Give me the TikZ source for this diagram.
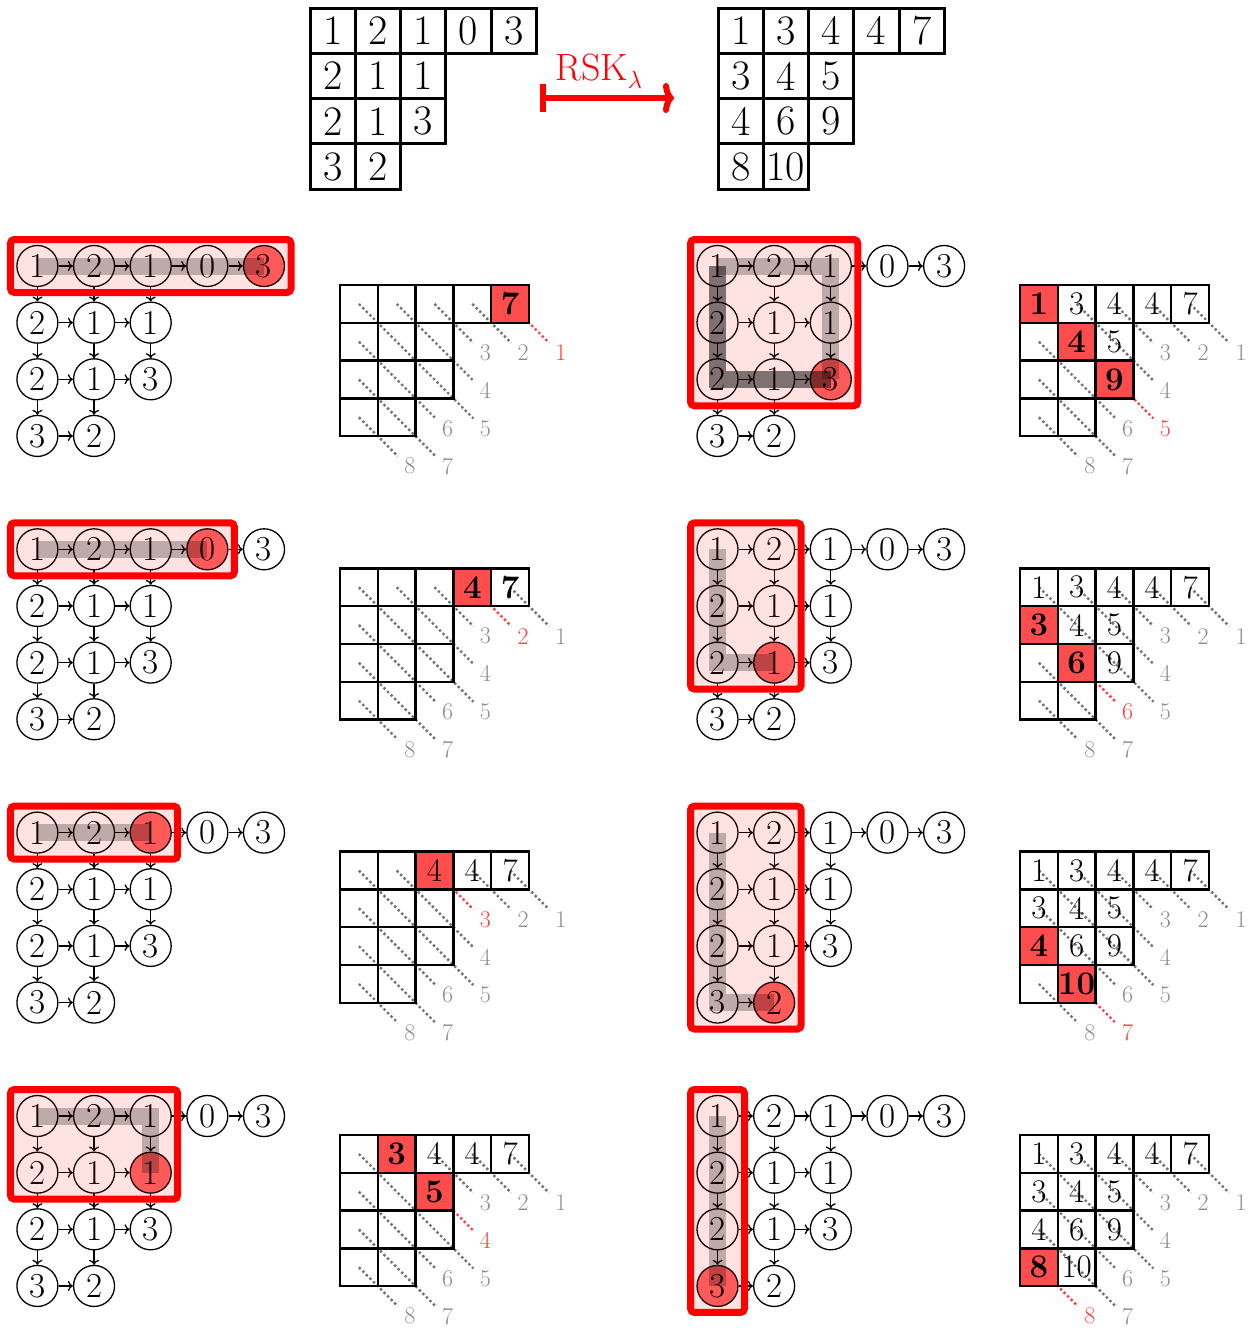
\documentclass[tikz,border=0pt]{standalone}
\usetikzlibrary{arrows.meta,calc}
\tikzset{
 gn/.style={circle,draw,line width=1.3pt,minimum size=41pt,inner sep=0pt,font=\fontsize{35}{35}\selectfont},
 ga/.style={line width=1.3pt,-{To[length=5pt,width=10pt]}},
 rbox/.style={draw=red,line width=7pt,rounded corners=4pt,fill=red,fill opacity=0.11},
 lbar/.style={draw=black,draw opacity=0.25,line width=17pt,line join=miter},
 dbar/.style={draw=black,draw opacity=0.5,line width=17pt,line join=miter},
 qcell/.style={draw,line width=2.4pt,minimum size=37.8pt,inner sep=0pt},
 qtext/.style={inner sep=0pt,font=\fontsize{33}{33}\selectfont},
 tcell/.style={draw,line width=3pt,minimum size=45.3pt,inner sep=0pt,font=\fontsize{42}{42}\selectfont},
 dgline/.style={line width=2.4pt,dash pattern=on 2.4pt off 2.6pt},
 dglab/.style={inner sep=0pt,font=\fontsize{24}{24}\selectfont},
}
\newcommand\gpanel[5]{%
  \foreach \i/\j/\v in {1/1/1,1/2/2,1/3/1,1/4/0,1/5/3,2/1/2,2/2/1,2/3/1,3/1/2,3/2/1,3/3/3,4/1/3,4/2/2}{
    \def\hf{none}%
    \ifnum\i=#4 \ifnum\j=#5 \def\hf{red!60}\fi\fi
    \node[gn,fill=\hf] (#1\i\j) at ({#2+56.65*(\j-1)},{#3+56.65*(\i-1)}) {\v};
  }
  \foreach \a/\b in {11/12,12/13,13/14,14/15,21/22,22/23,31/32,32/33,41/42,11/21,21/31,31/41,12/22,22/32,32/42,13/23,23/33}
    \draw[ga] (#1\a) -- (#1\b);
}
\newcommand\qpanel[6]{%
  \foreach \dn/\ra/\ca/\rb/\cb in {1/1/5/1/5,2/1/4/1/4,3/1/3/1/3,4/1/2/2/3,5/1/1/3/3,6/2/1/3/2,7/3/1/4/2,8/4/1/4/1}{
    \ifnum\dn=#4 \def\dc{red!75}\def\lc{red!75}\else\def\dc{black!55}\def\lc{black!45}\fi
    \coordinate (#1s\dn) at ({#2+37.8*(\ca-0.5)},{#3+37.8*(\ra-0.5)});
    \coordinate (#1e\dn) at ({#2+37.8*\cb+20},{#3+37.8*\rb+20});
    \draw[dgline,draw=\dc] (#1s\dn) -- (#1e\dn);
    \node[dglab,text=\lc] (#1l\dn) at ({#2+37.8*\cb+32},{#3+37.8*\rb+30}) {\dn};
  }
  \foreach \i/\j in {#5}
    \fill[red!70] ({#2+37.8*(\j-1)},{#3+37.8*(\i-1)}) rectangle ++(37.8,37.8);
  \foreach \i/\j in {1/1,1/2,1/3,1/4,1/5,2/1,2/2,2/3,3/1,3/2,3/3,4/1,4/2}
    \node[qcell] (#1c\i\j) at ({#2+37.8*(\j-0.5)},{#3+37.8*(\i-0.5)}) {};
  \foreach \i/\j/\tx in {#6}
    \node[qtext] (#1t\i\j) at ({#2+37.8*(\j-0.5)},{#3+37.8*(\i-0.5)}) {\tx};
}
\begin{document}
\begin{tikzpicture}[x=1pt,y=-1pt]
\useasboundingbox (0,0) rectangle (1254,1328);
% top tableaux
\foreach \i/\j/\v in {1/1/1,1/2/2,1/3/1,1/4/0,1/5/3,2/1/2,2/2/1,2/3/1,3/1/2,3/2/1,3/3/3,4/1/3,4/2/2}
  \node[tcell] (ta\i\j) at ({310+45.3*(\j-0.5)},{8+45.3*(\i-0.5)}) {\v};
\foreach \i/\j/\v in {1/1/1,1/2/3,1/3/4,1/4/4,1/5/7,2/1/3,2/2/4,2/3/5,3/1/4,3/2/6,3/3/9,4/1/8,4/2/10}
  \node[tcell] (tb\i\j) at ({718+45.3*(\j-0.5)},{8+45.3*(\i-0.5)}) {\v};
\coordinate (arS) at (540,98);
\coordinate (arE) at (674,98);
\draw[red,line width=6pt,{Bar[width=28pt]}-{To[length=11pt,width=30pt]}] (arS) -- (arE);
\node[text=red,font=\fontsize{38}{38}\selectfont,anchor=base west,inner sep=0pt] (rsk) at (555,80) {RSK$_\lambda$};

% graph panels, left column
\gpanel{ga}{37.4}{266}{1}{5}
\draw[rbox] ($(ga11)+(-27,-26.5)$) rectangle ($(ga15)+(27,26.5)$);
\draw[lbar] (ga11.center) -- (ga15.center);

\gpanel{gb}{37.4}{549.3}{1}{4}
\draw[rbox] ($(gb11)+(-27,-26.5)$) rectangle ($(gb14)+(27,26.5)$);
\draw[lbar] (gb11.center) -- (gb14.center);

\gpanel{gc}{37.4}{832.6}{1}{3}
\draw[rbox] ($(gc11)+(-27,-26.5)$) rectangle ($(gc13)+(27,26.5)$);
\draw[lbar] (gc11.center) -- (gc13.center);

\gpanel{gd}{37.4}{1116}{2}{3}
\draw[rbox] ($(gd11)+(-27,-26.5)$) rectangle ($(gd23)+(27,26.5)$);
\draw[lbar] (gd11.center) -- (gd13.center) -- (gd23.center);

% graph panels, right column
\gpanel{ge}{717.5}{266}{3}{3}
\draw[rbox] ($(ge11)+(-27,-26.5)$) rectangle ($(ge33)+(27,26.5)$);
\draw[lbar] (ge11.center) -- (ge13.center) -- (ge33.center);
\draw[dbar] (ge11.center) -- (ge31.center) -- (ge33.center);

\gpanel{gf}{717.5}{549.3}{3}{2}
\draw[rbox] ($(gf11)+(-27,-26.5)$) rectangle ($(gf32)+(27,26.5)$);
\draw[lbar] (gf11.center) -- (gf31.center) -- (gf32.center);

\gpanel{gg}{717.5}{832.6}{4}{2}
\draw[rbox] ($(gg11)+(-27,-26.5)$) rectangle ($(gg42)+(27,26.5)$);
\draw[lbar] (gg11.center) -- (gg41.center) -- (gg42.center);

\gpanel{gh}{717.5}{1116}{4}{1}
\draw[rbox] ($(gh11)+(-27,-26.5)$) rectangle ($(gh41)+(27,26.5)$);
\draw[lbar] (gh11.center) -- (gh41.center);

% Q tableaux, left column
\qpanel{qa}{340}{285}{1}{1/5}{1/5/\textbf{7}}
\qpanel{qb}{340}{568.3}{2}{1/4}{1/4/\textbf{4},1/5/\textbf{7}}
\qpanel{qc}{340}{851.6}{3}{1/3}{1/3/4,1/4/4,1/5/7}
\qpanel{qd}{340}{1135}{4}{1/2,2/3}{1/2/\textbf{3},1/3/4,1/4/4,1/5/7,2/3/\textbf{5}}
% Q tableaux, right column
\qpanel{qe}{1020}{285}{5}{1/1,2/2,3/3}{1/1/\textbf{1},1/2/3,1/3/4,1/4/4,1/5/7,2/2/\textbf{4},2/3/5,3/3/\textbf{9}}
\qpanel{qf}{1020}{568.3}{6}{2/1,3/2}{1/1/1,1/2/3,1/3/4,1/4/4,1/5/7,2/1/\textbf{3},2/2/4,2/3/5,3/2/\textbf{6},3/3/9}
\qpanel{qg}{1020}{851.6}{7}{3/1,4/2}{1/1/1,1/2/3,1/3/4,1/4/4,1/5/7,2/1/3,2/2/4,2/3/5,3/1/\textbf{4},3/2/6,3/3/9,4/2/\textbf{10}}
\qpanel{qh}{1020}{1135}{8}{4/1}{1/1/1,1/2/3,1/3/4,1/4/4,1/5/7,2/1/3,2/2/4,2/3/5,3/1/4,3/2/6,3/3/9,4/1/\textbf{8},4/2/10}
\end{tikzpicture}
\end{document}
